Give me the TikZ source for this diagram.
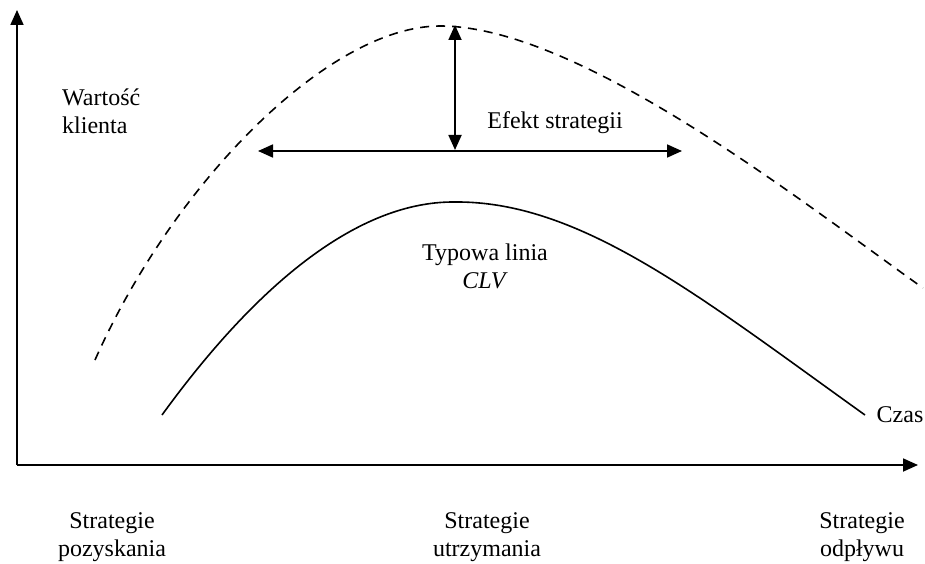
\documentclass[tikz,border=0pt]{standalone}
\usepackage{fontspec}
\setmainfont{Liberation Serif}
\usetikzlibrary{arrows.meta}
\begin{document}
\begin{tikzpicture}[x=1pt, y=-1pt]
        \tikzstyle{txt}=[inner sep=0pt, align=center,
            font=\fontsize{24}{28}\selectfont]
        \tikzstyle{axis}=[line width=1.8pt, -{Triangle[length=15pt, width=13pt]}]
        \tikzstyle{both}=[line width=1.8pt,
            {Triangle[length=15pt, width=13pt]}-{Triangle[length=15pt, width=13pt]}]
        \useasboundingbox (0, 0) rectangle (925, 564);

        \coordinate (O) at (17, 465);
        \coordinate (ytop) at (17, 10);
        \coordinate (xend) at (918, 465);
        \coordinate (vtop) at (455, 25);
        \coordinate (vbot) at (455, 150);
        \coordinate (hleft) at (258, 151);
        \coordinate (hright) at (682, 151);

        \draw[axis] (O) -- (ytop);
        \draw[axis] (O) -- (xend);

        % krzywe
        \draw[line width=1.6pt, dash pattern=on 9pt off 7pt]
            (95, 360) .. controls (175, 180) and (330, 26) .. (440, 26)
            .. controls (580, 26) and (803, 203) .. (923, 288);
        \draw[line width=1.6pt]
            (162, 415) .. controls (260, 280) and (360, 202) .. (453, 202)
            .. controls (580, 200) and (700, 297) .. (865, 415);

        \draw[both] (vtop) -- (vbot);
        \draw[both] (hleft) -- (hright);

        \node[txt, anchor=west, align=left] (wartosc) at (62, 111) {Wartość\\klienta};
        \node[txt] (efekt) at (555, 123) {Efekt strategii};
        \node[txt] (typowa) at (485, 266) {Typowa linia\\\textit{CLV}};
        \node[txt] (czas) at (900, 415) {Czas};

        \node[txt] (pozysk) at (112, 537) {Strategie\\pozyskania};
        \node[txt] (utrzym) at (487, 537) {Strategie\\utrzymania};
        \node[txt] (odplyw) at (862, 537) {Strategie\\odpływu};

    \end{tikzpicture}
\end{document}
